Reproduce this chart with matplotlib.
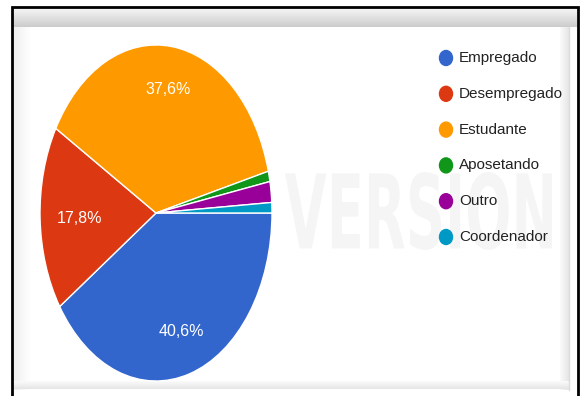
import numpy as np
import matplotlib
matplotlib.use("Agg")
import matplotlib.pyplot as plt
from matplotlib.patches import Ellipse, PathPatch
from matplotlib.textpath import TextPath
from matplotlib.font_manager import FontProperties
from matplotlib.transforms import Affine2D

# ocupação dos participantes (%)
categorias = ["Empregado", "Desempregado", "Estudante", "Aposetando", "Outro", "Coordenador"]
valores = [40.6, 17.8, 37.6, 1.0, 2.0, 1.0]
cores = ["#3366cc", "#dc3912", "#ff9900", "#109618", "#990099", "#0099c6"]

fonte = ["Liberation Sans", "DejaVu Sans"]
W, H = 580, 396

fig = plt.figure(figsize=(W / 100, H / 100), dpi=100)
fig.patch.set_facecolor("white")

# fundo em coordenadas de pixel: moldura e sombra do cartão
bg = fig.add_axes([0, 0, 1, 1])
bg.set_xlim(0, W)
bg.set_ylim(H, 0)
bg.axis("off")

grad_top = np.linspace(0.96, 0.80, 40).reshape(-1, 1)
bg.imshow(grad_top, cmap="gray", vmin=0, vmax=1, extent=(13, 577, 27, 8), aspect="auto")
grad_left = np.linspace(0.94, 1.0, 40).reshape(1, -1)
bg.imshow(grad_left, cmap="gray", vmin=0, vmax=1, extent=(13, 32, 390, 27), aspect="auto")
grad_right = np.linspace(0.98, 0.90, 20).reshape(1, -1)
bg.imshow(grad_right, cmap="gray", vmin=0, vmax=1, extent=(560, 569, 390, 27), aspect="auto")
grad_bot = np.linspace(0.98, 0.90, 20).reshape(-1, 1)
bg.imshow(grad_bot, cmap="gray", vmin=0, vmax=1, extent=(13, 569, 389, 381), aspect="auto")
bg.plot([569, 569], [27, 390], color="#dcdcdc", lw=1)
bg.plot([12, 12, 578, 578], [H, 7, 7, H], color="black", lw=2, solid_joinstyle="miter")

# marca d'água (fica atrás da pizza)
tp = TextPath((0, 0), "TRIAL VERSION", size=100, prop=FontProperties(family="DejaVu Sans", weight="bold"))
bb = tp.get_extents()
sx = (552 - 90) / bb.width
sy = -78 / bb.height
tp = tp.transformed(Affine2D().translate(-bb.x0, -bb.y0).scale(sx, sy).translate(90, 250))
bg.add_patch(PathPatch(tp, facecolor="black", edgecolor="none", alpha=0.04))

# legenda
y0, passo = 58, 35.8
for i, (nome, cor) in enumerate(zip(categorias, cores)):
    y = y0 + i * passo
    bg.add_patch(Ellipse((446, y), 13, 15, color=cor))
    bg.text(459, y, nome, family=fonte, fontsize=11, color="#222222", va="center", ha="left")

# pizza (elíptica)
cx, cy, rx, ry = 156, 213, 116, 168
ax = fig.add_axes([(cx - rx) / W, (H - cy - ry) / H, 2 * rx / W, 2 * ry / H])


def rotulo(p):
    return f"{p:.1f}%".replace(".", ",") if p > 5 else ""


wedges, textos, autos = ax.pie(valores, colors=cores, startangle=0, counterclock=False,
                               autopct=rotulo, pctdistance=0.74,
                               wedgeprops=dict(edgecolor="white", linewidth=1),
                               textprops=dict(color="white", fontsize=11.5, family=fonte))
autos[1].set_position((-0.66, -0.03))
ax.set_aspect("auto")
ax.set_xlim(-1, 1)
ax.set_ylim(-1, 1)
ax.axis("off")

fig.savefig("out.png", dpi=100)
